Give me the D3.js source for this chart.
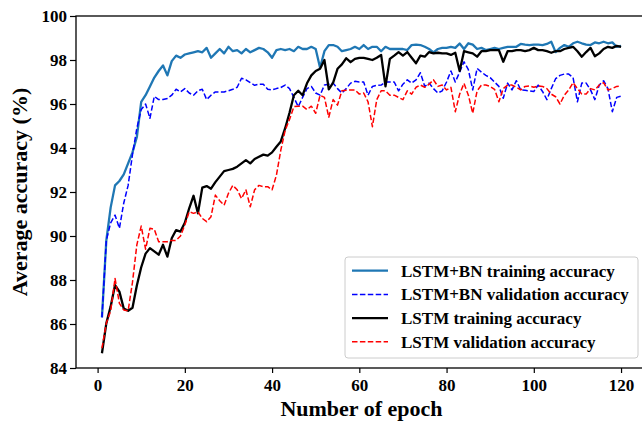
<!DOCTYPE html>
<html><head><meta charset="utf-8">
<script src="https://cdn.jsdelivr.net/npm/d3@7"></script>
<style>body{margin:0;background:#fff}svg{display:block}text{font-family:"Liberation Serif","Times New Roman",serif;font-weight:bold}</style>
</head><body>
<svg id="c" width="642" height="422"></svg>
<script>
const epochs = d3.range(1, 121);
const xTicks = [0,20,40,60,80,100,120];
const yTicks = [84,86,88,90,92,94,96,98,100];
const seriesNames = ["LSTM+BN training accuracy","LSTM+BN validation accuracy","LSTM training accuracy","LSTM validation accuracy"];
const bnTrain = [86.3,89.8,91.3,92.3,92.5,92.8,93.3,93.8,94.5,96.1,96.4,96.8,97.2,97.5,97.75,97.3,97.95,98.2,98.1,98.25,
98.3,98.35,98.4,98.35,98.55,98.1,98.3,98.5,98.3,98.6,98.4,98.45,98.3,98.5,98.35,98.45,98.55,98.5,98.35,98.1,
98.45,98.5,98.45,98.5,98.4,98.6,98.5,98.5,98.6,98.5,97.65,98.4,98.68,98.68,98.6,98.4,98.45,98.5,98.6,98.5,
98.68,98.5,98.6,98.6,98.4,98.6,98.5,98.5,98.5,98.5,98.45,98.68,98.7,98.68,98.6,98.5,98.35,98.5,98.55,98.55,
98.6,98.55,98.75,98.5,98.76,98.7,98.5,98.55,98.45,98.5,98.55,98.5,98.55,98.6,98.6,98.6,98.73,98.7,98.68,98.7,
98.7,98.68,98.73,98.83,98.36,98.55,98.68,98.6,98.76,98.83,98.76,98.7,98.68,98.8,98.76,98.83,98.76,98.8,98.6,98.64];
const bnVal = [86.3,89.8,90.6,90.95,90.35,91.5,92.3,93.7,94.9,95.75,96.0,95.35,96.35,96.2,96.2,96.25,96.4,96.67,96.55,96.7,
96.5,96.4,96.6,96.67,96.2,96.4,96.55,96.55,96.55,96.6,96.67,96.76,97.17,97.1,96.97,96.85,96.9,96.9,96.67,96.64,
96.7,96.75,96.86,96.7,96.3,95.88,96.3,96.7,96.8,96.5,96.4,96.86,96.9,96.95,96.7,96.5,96.7,96.95,97.03,97.0,
97.0,96.4,96.8,96.85,96.86,97.0,97.0,97.0,96.6,96.9,97.1,96.95,97.1,97.42,96.8,96.95,96.7,96.5,96.6,97.0,
97.5,97.0,97.45,97.92,97.56,96.64,97.62,97.45,97.3,97.2,97.0,96.8,96.26,96.95,96.64,97.06,96.64,96.62,96.6,96.57,
96.86,96.57,96.2,96.7,97.15,97.3,97.36,97.36,97.2,96.1,96.95,96.95,96.64,96.2,96.86,97.06,96.7,95.65,96.3,96.36];
const lstmTrain = [84.67,86.03,86.8,87.77,87.47,86.7,86.6,86.74,87.75,88.58,89.2,89.45,89.3,89.15,89.6,89.06,89.9,90.27,90.2,90.6,
91.26,91.83,91.03,92.2,92.27,92.15,92.45,92.7,92.95,93.0,93.05,93.15,93.3,93.45,93.3,93.5,93.6,93.7,93.65,93.8,
94.06,94.3,94.9,95.6,96.4,96.6,96.4,96.94,97.3,97.5,97.6,98.0,96.67,96.97,97.6,97.8,98.08,97.9,98.05,98.1,
98.1,98.05,98.0,98.1,98.23,96.8,98.05,98.2,98.36,98.2,98.36,98.1,97.85,98.2,98.15,98.36,98.3,98.33,98.3,98.3,
98.23,98.33,97.5,98.4,98.35,98.3,98.15,98.4,98.4,98.45,98.45,98.45,97.92,98.4,98.4,98.45,98.45,98.4,98.45,98.55,
98.45,98.45,98.4,98.33,98.4,98.4,98.5,98.55,98.6,98.4,98.15,98.36,98.55,98.17,98.3,98.5,98.6,98.55,98.64,98.6];
const lstmVal = [84.9,86.03,86.6,88.07,86.94,86.64,86.6,87.9,89.6,90.45,89.4,90.35,90.3,89.74,89.74,89.74,89.8,89.8,90.0,90.5,
91.1,91.03,91.1,90.8,90.65,90.88,91.86,91.6,91.4,91.94,92.3,92.1,91.7,92.1,91.33,92.1,92.3,92.24,92.24,92.1,
92.77,93.9,94.8,95.3,95.88,95.9,95.9,95.75,95.9,95.58,96.4,96.3,95.4,96.2,95.95,96.6,96.62,96.64,96.64,96.45,
96.5,96.1,94.97,96.2,96.6,96.6,96.4,96.4,96.3,96.2,96.6,96.45,96.76,96.86,96.76,96.9,97.1,96.8,96.86,96.64,
96.76,95.65,96.45,96.94,96.4,95.58,96.6,96.86,96.86,96.8,96.67,96.1,96.7,96.86,96.86,96.76,96.64,96.8,96.82,96.76,
96.82,96.8,96.7,96.45,96.33,96.0,96.4,96.64,96.97,96.7,96.45,96.45,96.7,96.64,96.86,96.97,96.64,96.7,96.8,96.82];

const svg = d3.select("#c");
const L = 76, R = 647, T = 16, B = 368;
const x = d3.scaleLinear().domain([-4.95, 125.95]).range([L, R]);
const y = d3.scaleLinear().domain([84, 100]).range([B, T]);

svg.append("defs").append("clipPath").attr("id","clip")
  .append("rect").attr("x",L).attr("y",T).attr("width",R-L).attr("height",B-T);

const series = [
  {name: seriesNames[0], data: bnTrain, color: "#1f77b4", w: 2.3, dash: null},
  {name: seriesNames[1], data: bnVal, color: "#0000ff", w: 1.5, dash: "5.5,2.4"},
  {name: seriesNames[2], data: lstmTrain, color: "#000000", w: 2.3, dash: null},
  {name: seriesNames[3], data: lstmVal, color: "#ff0000", w: 1.5, dash: "5.5,2.4"}
];
const line = d3.line().x((d,i) => x(epochs[i])).y(d => y(d));
const g = svg.append("g").attr("clip-path","url(#clip)");
series.forEach(s => {
  g.append("path").attr("d", line(s.data)).attr("fill","none")
    .attr("stroke", s.color).attr("stroke-width", s.w)
    .attr("stroke-dasharray", s.dash).attr("stroke-linejoin","round");
});

// axes
const xAxis = svg.append("g").attr("transform",`translate(0,${B})`)
  .call(d3.axisBottom(x).tickValues(xTicks).tickSize(5).tickPadding(6).tickFormat(d3.format("d")));
const yAxis = svg.append("g").attr("transform",`translate(${L},0)`)
  .call(d3.axisLeft(y).tickValues(yTicks).tickSize(6).tickPadding(3).tickFormat(d3.format("d")));
[xAxis, yAxis].forEach(a => {
  a.select(".domain").remove();
  a.selectAll("line").attr("stroke","#000").attr("stroke-width",1.2);
  a.selectAll("text").attr("font-size",17).attr("fill","#000")
    .style("font-family","'Liberation Serif','Times New Roman',serif").style("font-weight","bold");
});
// spines
svg.append("rect").attr("x",L).attr("y",T).attr("width",R-L).attr("height",B-T)
  .attr("fill","none").attr("stroke","#000").attr("stroke-width",1.3);

svg.append("text").attr("x",(L+R)/2).attr("y",416).attr("text-anchor","middle")
  .attr("font-size",22).attr("fill","#000").text("Number of epoch");
svg.append("text").attr("transform",`translate(27,${(T+B)/2}) rotate(-90)`).attr("text-anchor","middle")
  .attr("font-size",22).attr("fill","#000").text("Average accuracy (%)");

// legend
const lg = svg.append("g");
lg.append("rect").attr("x",345).attr("y",257).attr("width",293).attr("height",101).attr("rx",3)
  .attr("fill","#fff").attr("fill-opacity",0.85).attr("stroke","#cccccc").attr("stroke-width",1);
series.forEach((s,i) => {
  const cy = 270.7 + i*23.7;
  lg.append("line").attr("x1",352).attr("x2",388).attr("y1",cy).attr("y2",cy)
    .attr("stroke",s.color).attr("stroke-width",s.w).attr("stroke-dasharray",s.dash);
  lg.append("text").attr("x",401).attr("y",cy+5.8).attr("font-size",17).attr("fill","#000").text(s.name);
});
</script>
</body></html>
